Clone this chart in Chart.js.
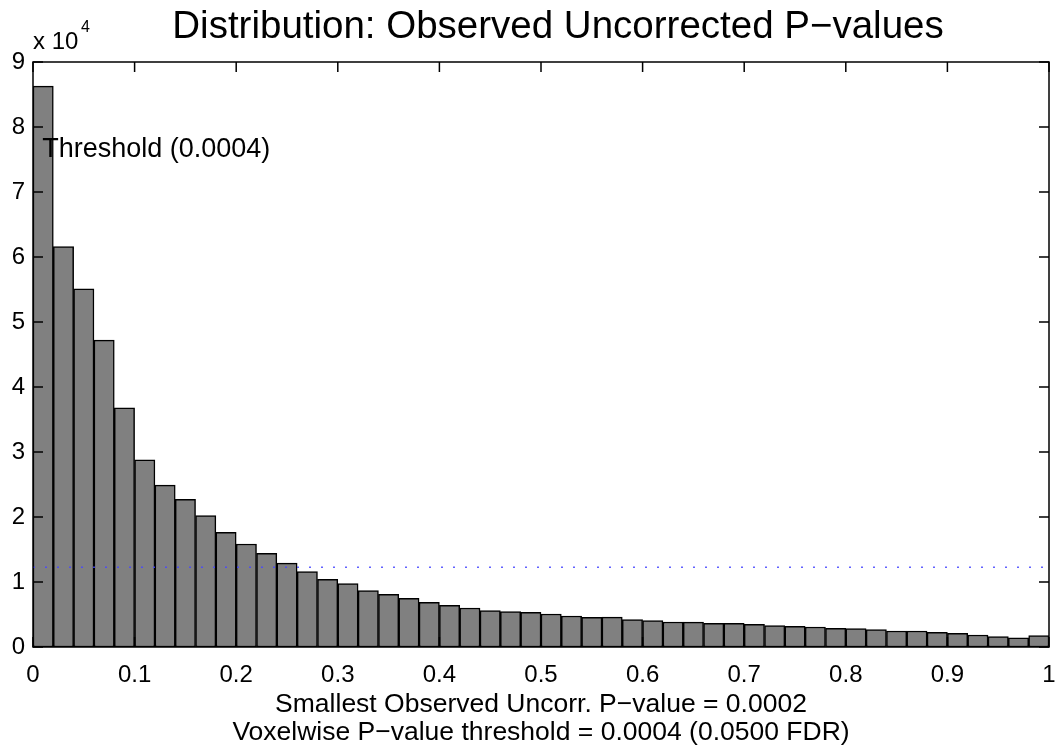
<!DOCTYPE html>
<html>
<head>
<meta charset="utf-8">
<script src="https://cdn.jsdelivr.net/npm/chart.js@4.4.1/dist/chart.umd.min.js"></script>
<style>
  html, body { margin: 0; padding: 0; background: #fff; }
  #wrap { width: 1058px; height: 751px; }
</style>
</head>
<body>
<div id="wrap"><canvas id="histChart" width="1058" height="751"></canvas></div>
<script>
// histogram bins (centres of 0.02-wide bins) and counts
var binCenters = [0.01, 0.03, 0.05, 0.07, 0.09, 0.11, 0.13, 0.15, 0.17, 0.19,
                  0.21, 0.23, 0.25, 0.27, 0.29, 0.31, 0.33, 0.35, 0.37, 0.39,
                  0.41, 0.43, 0.45, 0.47, 0.49, 0.51, 0.53, 0.55, 0.57, 0.59,
                  0.61, 0.63, 0.65, 0.67, 0.69, 0.71, 0.73, 0.75, 0.77, 0.79,
                  0.81, 0.83, 0.85, 0.87, 0.89, 0.91, 0.93, 0.95, 0.97, 0.99];
var counts = [86300, 61600, 55100, 47200, 36800, 28800, 24900, 22700, 20200, 17650,
              15850, 14400, 12900, 11600, 10400, 9750, 8670, 8100, 7490, 6870,
              6410, 6000, 5590, 5440, 5330, 5080, 4770, 4560, 4600, 4200,
              4050, 3850, 3830, 3640, 3630, 3490, 3280, 3180, 3080, 2870,
              2820, 2670, 2460, 2460, 2260, 2100, 1850, 1590, 1430, 1740];
var threshold = 12260;
var thresholdLabel = 'Threshold (0.0004)';
var thresholdLabelPos = [0.009, 76600];

var xTicks = [0, 0.1, 0.2, 0.3, 0.4, 0.5, 0.6, 0.7, 0.8, 0.9, 1];
var xTickLabels = ['0', '0.1', '0.2', '0.3', '0.4', '0.5', '0.6', '0.7', '0.8', '0.9', '1'];
var yTicks = [0, 10000, 20000, 30000, 40000, 50000, 60000, 70000, 80000, 90000];
var yTickLabels = ['0', '1', '2', '3', '4', '5', '6', '7', '8', '9'];

var titleText = 'Distribution: Observed Uncorrected P\u2212values';
var xLabelLines = ['Smallest Observed Uncorr. P\u2212value = 0.0002',
                   'Voxelwise P\u2212value threshold = 0.0004 (0.0500 FDR)'];

var FONT = '"Liberation Sans", Arial, Helvetica, sans-serif';

// matlab style box, inward ticks, title, exponent and threshold text
var matlabAxes = {
  id: 'matlabAxes',
  afterDatasetsDraw: function (chart) {
    var ctx = chart.ctx, a = chart.chartArea;
    var xs = chart.scales.x, ys = chart.scales.y;
    ctx.save();
    ctx.strokeStyle = '#000';
    ctx.lineWidth = 1.5;
    ctx.beginPath();
    xTicks.forEach(function (v) {
      var px = xs.getPixelForValue(v);
      ctx.moveTo(px, a.bottom); ctx.lineTo(px, a.bottom - 10);
      ctx.moveTo(px, a.top); ctx.lineTo(px, a.top + 10);
    });
    yTicks.forEach(function (v) {
      var py = ys.getPixelForValue(v);
      ctx.moveTo(a.left, py); ctx.lineTo(a.left + 10, py);
      ctx.moveTo(a.right, py); ctx.lineTo(a.right - 10, py);
    });
    ctx.stroke();
    ctx.strokeRect(a.left, a.top, a.right - a.left, a.bottom - a.top);

    ctx.fillStyle = '#000';
    ctx.textBaseline = 'middle';
    ctx.textAlign = 'left';
    ctx.font = '27px ' + FONT;
    ctx.fillText(thresholdLabel, xs.getPixelForValue(thresholdLabelPos[0]), ys.getPixelForValue(thresholdLabelPos[1]));

    ctx.font = '24px ' + FONT;
    ctx.fillText('x 10', a.left, 42);
    ctx.font = '16px ' + FONT;
    ctx.fillText('4', a.left + 48, 28);

    ctx.textAlign = 'center';
    ctx.font = '38.5px ' + FONT;
    ctx.fillText(titleText, 558, 27);
    ctx.restore();
  }
};

var ctx = document.getElementById('histChart');
var histChart = new Chart(ctx, {
  data: {
    datasets: [
      {
        type: 'line',
        order: 0,
        data: [{x: 0, y: threshold}, {x: 1, y: threshold}],
        borderColor: 'rgba(70,70,255,0.85)',
        borderWidth: 1.5,
        borderDash: [2, 10],
        pointRadius: 0,
        fill: false
      },
      {
        type: 'bar',
        order: 1,
        data: binCenters.map(function (c, i) { return {x: c, y: counts[i]}; }),
        backgroundColor: '#808080',
        borderColor: '#000',
        borderWidth: 1.5,
        borderSkipped: false,
        barPercentage: 1.0,
        categoryPercentage: 1.0
      }
    ]
  },
  options: {
    responsive: false,
    animation: false,
    events: [],
    layout: { padding: { left: 0, right: 9, top: 62, bottom: 0 } },
    plugins: {
      legend: { display: false },
      tooltip: { enabled: false },
      title: { display: false }
    },
    scales: {
      x: {
        type: 'linear',
        min: 0,
        max: 1,
        offset: false,
        afterBuildTicks: function (s) { s.ticks = xTicks.map(function (v) { return {value: v}; }); },
        afterFit: function (s) { s.height = 104; s.paddingLeft = 0; s.paddingRight = 0; },
        grid: { display: false, drawTicks: false },
        border: { display: false },
        ticks: {
          color: '#000',
          padding: 14,
          maxRotation: 0,
          autoSkip: false,
          font: { family: FONT, size: 24 },
          callback: function (v, i) { return xTickLabels[i]; }
        },
        title: {
          display: true,
          text: xLabelLines,
          color: '#000',
          font: { family: FONT, size: 26.5, lineHeight: 1.06 },
          padding: { top: 0, bottom: 4 }
        }
      },
      y: {
        min: 0,
        max: 90000,
        afterBuildTicks: function (s) { s.ticks = yTicks.map(function (v) { return {value: v}; }); },
        afterFit: function (s) { s.width = 33; s.paddingTop = 0; s.paddingBottom = 0; },
        grid: { display: false, drawTicks: false },
        border: { display: false },
        ticks: {
          color: '#000',
          padding: 8,
          autoSkip: false,
          font: { family: FONT, size: 24 },
          callback: function (v, i) { return yTickLabels[i]; }
        }
      }
    }
  },
  plugins: [matlabAxes]
});
</script>
</body>
</html>
